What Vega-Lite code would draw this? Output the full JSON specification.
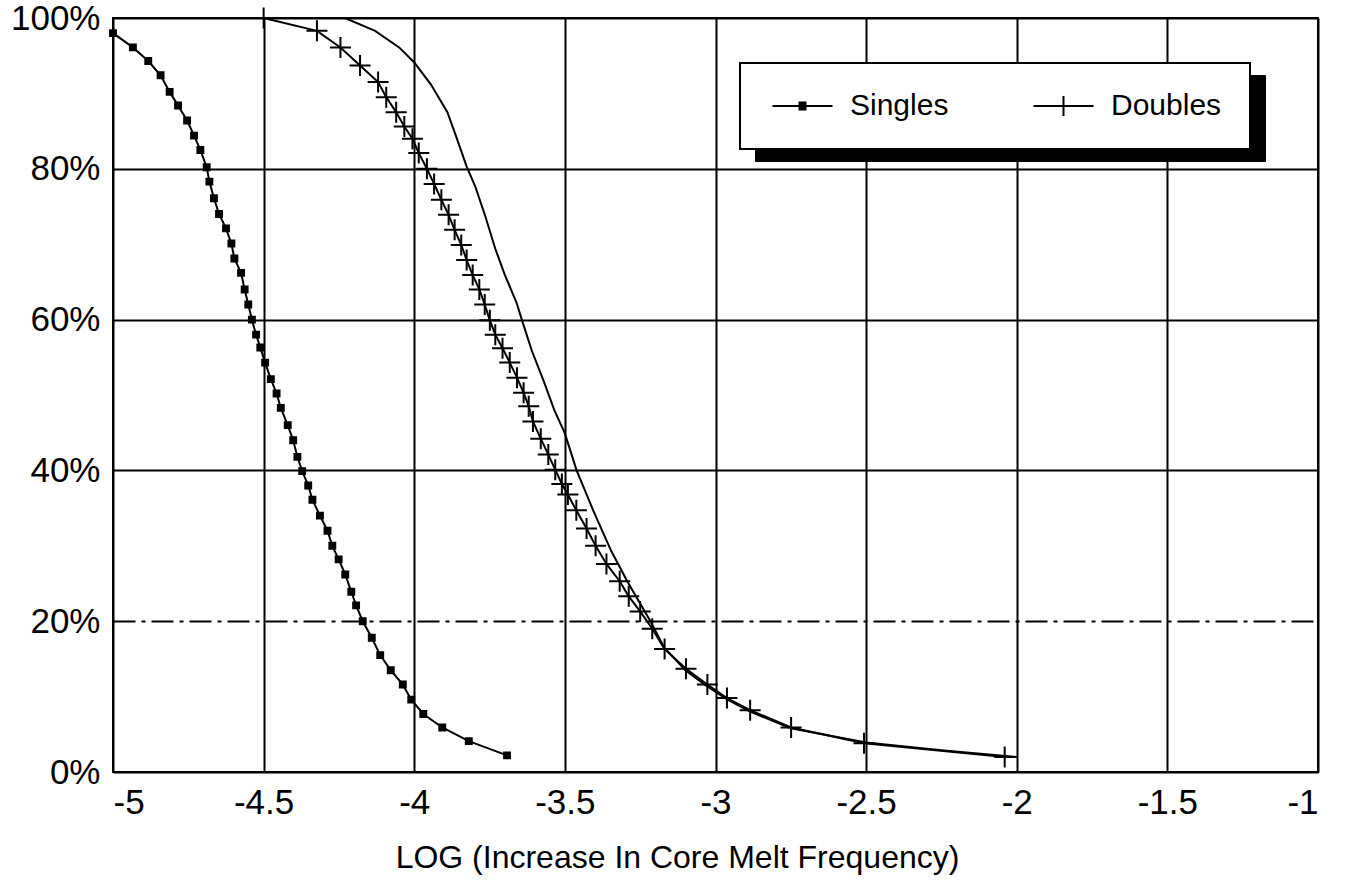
{
  "$schema": "https://vega.github.io/schema/vega-lite/v6.json",
  "width": 1205,
  "height": 754,
  "autosize": {"type": "none"},
  "padding": {"left": 113, "top": 18, "right": 38, "bottom": 116},
  "background": "white",
  "config": {
    "view": {"stroke": "black", "strokeWidth": 2},
    "font": "Liberation Sans",
    "axis": {
      "labelFont": "Liberation Sans",
      "labelFontSize": 35,
      "labelColor": "black",
      "titleFont": "Liberation Sans",
      "titleFontSize": 32,
      "titleFontWeight": "normal",
      "titleColor": "black",
      "gridColor": "black",
      "gridOpacity": 1,
      "gridWidth": 2,
      "domain": false,
      "ticks": false
    }
  },
  "data": {
    "values": [
      {"series": "Singles", "x": -5.0, "y": 98.0},
      {"series": "Singles", "x": -4.934, "y": 96.1},
      {"series": "Singles", "x": -4.883, "y": 94.3},
      {"series": "Singles", "x": -4.842, "y": 92.4},
      {"series": "Singles", "x": -4.812, "y": 90.2},
      {"series": "Singles", "x": -4.784, "y": 88.4},
      {"series": "Singles", "x": -4.754, "y": 86.4},
      {"series": "Singles", "x": -4.731, "y": 84.4},
      {"series": "Singles", "x": -4.71, "y": 82.5},
      {"series": "Singles", "x": -4.689, "y": 80.2},
      {"series": "Singles", "x": -4.68, "y": 78.3},
      {"series": "Singles", "x": -4.665, "y": 76.1},
      {"series": "Singles", "x": -4.648, "y": 74.0},
      {"series": "Singles", "x": -4.625, "y": 72.1},
      {"series": "Singles", "x": -4.607, "y": 70.1},
      {"series": "Singles", "x": -4.597, "y": 68.1},
      {"series": "Singles", "x": -4.575, "y": 66.2},
      {"series": "Singles", "x": -4.563, "y": 64.0},
      {"series": "Singles", "x": -4.551, "y": 62.0},
      {"series": "Singles", "x": -4.539, "y": 60.0},
      {"series": "Singles", "x": -4.525, "y": 58.0},
      {"series": "Singles", "x": -4.511, "y": 56.3},
      {"series": "Singles", "x": -4.495, "y": 54.3},
      {"series": "Singles", "x": -4.476, "y": 52.1},
      {"series": "Singles", "x": -4.457, "y": 50.2},
      {"series": "Singles", "x": -4.443, "y": 48.3},
      {"series": "Singles", "x": -4.42, "y": 46.0},
      {"series": "Singles", "x": -4.402, "y": 44.0},
      {"series": "Singles", "x": -4.388, "y": 41.8},
      {"series": "Singles", "x": -4.372, "y": 39.9},
      {"series": "Singles", "x": -4.352, "y": 38.0},
      {"series": "Singles", "x": -4.338, "y": 36.1},
      {"series": "Singles", "x": -4.313, "y": 34.0},
      {"series": "Singles", "x": -4.288, "y": 32.0},
      {"series": "Singles", "x": -4.272, "y": 30.0},
      {"series": "Singles", "x": -4.251, "y": 28.2},
      {"series": "Singles", "x": -4.229, "y": 26.2},
      {"series": "Singles", "x": -4.209, "y": 23.9},
      {"series": "Singles", "x": -4.193, "y": 22.1},
      {"series": "Singles", "x": -4.171, "y": 20.0},
      {"series": "Singles", "x": -4.141, "y": 17.8},
      {"series": "Singles", "x": -4.113, "y": 15.5},
      {"series": "Singles", "x": -4.078, "y": 13.5},
      {"series": "Singles", "x": -4.038, "y": 11.6},
      {"series": "Singles", "x": -4.01, "y": 9.6},
      {"series": "Singles", "x": -3.97, "y": 7.7},
      {"series": "Singles", "x": -3.907, "y": 5.9},
      {"series": "Singles", "x": -3.819, "y": 4.1},
      {"series": "Singles", "x": -3.692, "y": 2.2},
      {"series": "Doubles", "x": -4.5, "y": 100.0},
      {"series": "Doubles", "x": -4.323, "y": 98.3},
      {"series": "Doubles", "x": -4.245, "y": 96.1},
      {"series": "Doubles", "x": -4.18, "y": 93.7},
      {"series": "Doubles", "x": -4.12, "y": 91.5},
      {"series": "Doubles", "x": -4.093, "y": 89.5},
      {"series": "Doubles", "x": -4.06, "y": 87.5},
      {"series": "Doubles", "x": -4.033, "y": 85.6},
      {"series": "Doubles", "x": -4.006, "y": 84.0},
      {"series": "Doubles", "x": -3.985, "y": 82.1},
      {"series": "Doubles", "x": -3.958, "y": 80.0},
      {"series": "Doubles", "x": -3.934, "y": 78.0},
      {"series": "Doubles", "x": -3.91, "y": 75.9},
      {"series": "Doubles", "x": -3.886, "y": 73.9},
      {"series": "Doubles", "x": -3.866, "y": 71.9},
      {"series": "Doubles", "x": -3.844, "y": 69.9},
      {"series": "Doubles", "x": -3.826, "y": 67.9},
      {"series": "Doubles", "x": -3.806, "y": 65.9},
      {"series": "Doubles", "x": -3.784, "y": 64.0},
      {"series": "Doubles", "x": -3.766, "y": 62.0},
      {"series": "Doubles", "x": -3.749, "y": 59.9},
      {"series": "Doubles", "x": -3.731, "y": 58.0},
      {"series": "Doubles", "x": -3.707, "y": 56.2},
      {"series": "Doubles", "x": -3.683, "y": 54.3},
      {"series": "Doubles", "x": -3.659, "y": 52.3},
      {"series": "Doubles", "x": -3.637, "y": 50.3},
      {"series": "Doubles", "x": -3.62, "y": 48.5},
      {"series": "Doubles", "x": -3.606, "y": 46.5},
      {"series": "Doubles", "x": -3.58, "y": 44.2},
      {"series": "Doubles", "x": -3.555, "y": 42.1},
      {"series": "Doubles", "x": -3.532, "y": 40.1},
      {"series": "Doubles", "x": -3.51, "y": 38.2},
      {"series": "Doubles", "x": -3.49, "y": 36.8},
      {"series": "Doubles", "x": -3.462, "y": 34.7},
      {"series": "Doubles", "x": -3.428, "y": 32.3},
      {"series": "Doubles", "x": -3.398, "y": 30.0},
      {"series": "Doubles", "x": -3.362, "y": 27.6},
      {"series": "Doubles", "x": -3.318, "y": 25.3},
      {"series": "Doubles", "x": -3.288, "y": 23.3},
      {"series": "Doubles", "x": -3.25, "y": 21.3},
      {"series": "Doubles", "x": -3.21, "y": 19.0},
      {"series": "Doubles", "x": -3.169, "y": 16.3},
      {"series": "Doubles", "x": -3.098, "y": 13.7},
      {"series": "Doubles", "x": -3.027, "y": 11.6},
      {"series": "Doubles", "x": -2.962, "y": 9.8},
      {"series": "Doubles", "x": -2.885, "y": 8.2},
      {"series": "Doubles", "x": -2.749, "y": 5.9},
      {"series": "Doubles", "x": -2.507, "y": 3.8},
      {"series": "Doubles", "x": -2.04, "y": 2.0},
      {"series": "Curve", "x": -4.5, "y": 100.0},
      {"series": "Curve", "x": -4.23, "y": 100.0},
      {"series": "Curve", "x": -4.13, "y": 98.3},
      {"series": "Curve", "x": -4.05, "y": 96.1},
      {"series": "Curve", "x": -4.0, "y": 94.1},
      {"series": "Curve", "x": -3.945, "y": 91.2},
      {"series": "Curve", "x": -3.89, "y": 87.5},
      {"series": "Curve", "x": -3.862, "y": 84.4},
      {"series": "Curve", "x": -3.826, "y": 80.3},
      {"series": "Curve", "x": -3.797, "y": 77.6},
      {"series": "Curve", "x": -3.765, "y": 73.8},
      {"series": "Curve", "x": -3.731, "y": 69.4},
      {"series": "Curve", "x": -3.7, "y": 66.0},
      {"series": "Curve", "x": -3.66, "y": 62.2},
      {"series": "Curve", "x": -3.643, "y": 60.0},
      {"series": "Curve", "x": -3.61, "y": 55.9},
      {"series": "Curve", "x": -3.57, "y": 51.8},
      {"series": "Curve", "x": -3.535, "y": 48.0},
      {"series": "Curve", "x": -3.5, "y": 44.9},
      {"series": "Curve", "x": -3.461, "y": 40.0},
      {"series": "Curve", "x": -3.405, "y": 34.6},
      {"series": "Curve", "x": -3.346, "y": 29.3},
      {"series": "Curve", "x": -3.293, "y": 25.3},
      {"series": "Curve", "x": -3.216, "y": 20.0},
      {"series": "Curve", "x": -3.17, "y": 16.5},
      {"series": "Curve", "x": -3.1, "y": 13.5},
      {"series": "Curve", "x": -3.03, "y": 11.4},
      {"series": "Curve", "x": -2.96, "y": 9.6},
      {"series": "Curve", "x": -2.885, "y": 8.0},
      {"series": "Curve", "x": -2.75, "y": 5.8},
      {"series": "Curve", "x": -2.5, "y": 3.9},
      {"series": "Curve", "x": -2.25, "y": 2.9},
      {"series": "Curve", "x": -2.0, "y": 2.0}
    ]
  },
  "encoding": {
    "x": {
      "field": "x",
      "type": "quantitative",
      "scale": {"domain": [-5, -1], "nice": false, "zero": false},
      "axis": {
        "values": [-5, -4.5, -4, -3.5, -3, -2.5, -2, -1.5, -1],
        "labelExpr": "'' + datum.value",
        "labelPadding": 13,
        "title": "LOG (Increase In Core Melt Frequency)",
        "titlePadding": 22,
        "titleX": 564
      }
    },
    "y": {
      "field": "y",
      "type": "quantitative",
      "scale": {"domain": [0, 100], "nice": false},
      "axis": {
        "values": [0, 20, 40, 60, 80, 100],
        "labelExpr": "datum.value + '%'",
        "labelPadding": 13,
        "title": null,
        "gridDash": {"condition": {"test": "datum.value == 20", "value": [22, 6, 4, 6]}, "value": []}
      }
    }
  },
  "resolve": {"scale": {"shape": "independent"}, "legend": {"shape": "independent"}},
  "layer": [
    {
      "mark": {"type": "line", "color": "black", "strokeWidth": 2},
      "encoding": {"detail": {"field": "series"}}
    },
    {
      "transform": [{"filter": "datum.series != 'Curve'"}],
      "mark": {"type": "point", "filled": true, "fill": "black", "stroke": "black", "strokeWidth": 2, "opacity": 1, "size": 441},
      "encoding": {
        "shape": {
          "field": "series",
          "type": "nominal",
          "scale": {"domain": ["Singles", "Doubles"], "range": ["M-0.28,-0.28H0.28V0.28H-0.28Z", "M-1,0H1M0,-1V1"]},
          "legend": null
        }
      }
    },
    {
      "transform": [{"filter": "datum.series != 'Curve'"}],
      "mark": {"type": "point", "filled": true, "opacity": 0},
      "encoding": {
        "color": {
          "field": "series",
          "type": "nominal",
          "scale": {"domain": ["Doubles", "Singles"], "range": ["black", "black"]},
          "legend": {
            "title": null,
            "orient": "none",
            "legendX": 642,
            "legendY": 57,
            "direction": "horizontal",
            "fillColor": "black",
            "strokeColor": "black",
            "padding": 28,
            "columnPadding": 290,
            "labelFont": "Liberation Sans",
            "labelFontSize": 30,
            "labelColor": "black",
            "labelOpacity": 0,
            "labelOffset": 52,
            "labelExpr": "datum.value == 'Singles' ? '            ' : '             '",
            "symbolSize": 625,
            "symbolOpacity": 0
          }
        }
      }
    },
    {
      "transform": [{"filter": "datum.series != 'Curve'"}],
      "mark": {"type": "point", "filled": true, "fill": "black", "stroke": "black", "strokeWidth": 2, "opacity": 0},
      "encoding": {
        "shape": {
          "field": "series",
          "type": "nominal",
          "scale": {"domain": ["Singles", "Doubles"], "range": ["M-0.84,0H3.96M1.32,-0.28H1.8V0.28H1.32Z", "M-0.84,0H3.96M1.56,-0.8V0.8"]},
          "legend": {
            "title": null,
            "orient": "none",
            "legendX": 627,
            "legendY": 45,
            "direction": "horizontal",
            "fillColor": "white",
            "strokeColor": "black",
            "padding": 28,
            "columnPadding": 80,
            "labelFont": "Liberation Sans",
            "labelFontSize": 30,
            "labelColor": "black",
            "labelOffset": 52,
            "symbolSize": 625,
            "symbolOpacity": 1,
            "symbolStrokeWidth": 2,
            "symbolStrokeColor": "black",
            "symbolFillColor": "black",
            "encoding": {
              "symbols": {
                "stroke": {"value": "black"},
                "strokeWidth": {"value": 2},
                "opacity": {"value": 1}
              },
              "legend": {
                "strokeWidth": {"value": 2}
              }
            }
          }
        }
      }
    }
  ]
}
